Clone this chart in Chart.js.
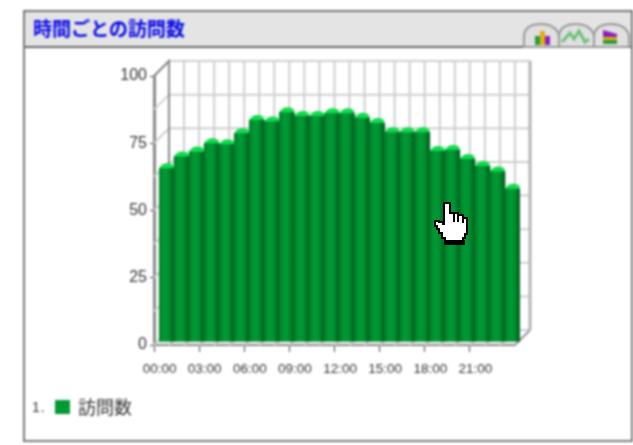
<!DOCTYPE html>
<html lang="ja">
<head>
<meta charset="utf-8">
<title>時間ごとの訪問数</title>
<script src="https://cdn.jsdelivr.net/npm/chart.js@4/dist/chart.umd.min.js"></script>
<style>
    html, body { margin: 0; padding: 0; background: #fff; width: 633px; height: 445px; overflow: hidden; }
    #page { position: absolute; left: 0; top: 0; width: 633px; height: 445px; filter: blur(0.9px); }
    #panel { position: absolute; left: 23px; top: 10px; width: 606px; height: 428px; border: 2px solid #777; background: #fff; }
    #header { position: absolute; left: 0; top: 0; width: 606px; height: 34px; background: #e4e4e4; border-bottom: 2px solid #666; }
    #title { position: absolute; left: 8px; top: 4px; font: bold 19px "Noto Sans CJK JP", sans-serif; line-height: 24px; color: #0c0ce8; white-space: nowrap; }
    #tabs { position: absolute; left: 523px; top: 22px; }
    #chart { position: absolute; left: 0; top: 0; }
    #legend-no { position: absolute; left: 32px; top: 399px; font: 14px "Liberation Sans", sans-serif; color: #333; letter-spacing: 1px; }
    #legend-box { position: absolute; left: 55px; top: 400px; width: 15px; height: 14px; background: #009933; }
    #legend-name { position: absolute; left: 78px; top: 393px; font: 18px "Noto Sans CJK JP", sans-serif; line-height: 26px; color: #333; }
    #hand { position: absolute; left: 434px; top: 200px; }
</style>
</head>
<body>
<div id="page">
    <div id="panel">
        <div id="header"><div id="title">時間ごとの訪問数</div></div>
    </div>
    <svg id="tabs" width="107" height="26" viewBox="0 0 107 26">
        <path d="M1 25V13Q3 2 18 2Q32 2 36 13V25Z" fill="#e0e0e0" stroke="#999" stroke-width="2"/>
        <path d="M36 25V13Q38 2 53 2Q67 2 71 13V25Z" fill="#e0e0e0" stroke="#999" stroke-width="2"/>
        <path d="M71 25V13Q73 2 88 2Q102 2 106 13V25Z" fill="#e0e0e0" stroke="#999" stroke-width="2"/>
        <rect x="12" y="14" width="5" height="9" fill="#2c9a3a"/>
        <rect x="17" y="9" width="5" height="14" fill="#e0b010"/>
        <rect x="22" y="14" width="5" height="9" fill="#8a20c0"/>
        <path d="M39 20L47 11L51 17L56 9L62 20L66 17" fill="none" stroke="#6cc07a" stroke-width="3"/>
        <path d="M80 8L94 12V15H80Z" fill="#8a20c0"/>
        <path d="M80 15H94V18H80Z" fill="#e0b010"/>
        <path d="M80 18H94V22H80Z" fill="#2c9a3a"/>
    </svg>
    <canvas id="chart" width="633" height="445"></canvas>
    <div id="legend-no">1.</div>
    <div id="legend-box"></div>
    <div id="legend-name"></div>
</div>
<svg id="hand" width="36" height="48" viewBox="0 0 36 48" shape-rendering="crispEdges">
    <path d="M10 3H16V13H24V15H29V18H33V34H31V38H29V41H11V38H8V33H5V29H3V26H1V21H5V22H9V24H10Z" fill="#fff" stroke="#000" stroke-width="2"/>
    <path d="M10 40H31V45H10Z" fill="#000"/>
    <path d="M20 14V22M24 15V22M29 18V23" stroke="#000" stroke-width="1.5" fill="none"/>
</svg>
<script>
const seriesName = '訪問数';
const hours = ['00:00', '01:00', '02:00', '03:00', '04:00', '05:00', '06:00', '07:00',
    '08:00', '09:00', '10:00', '11:00', '12:00', '13:00', '14:00', '15:00',
    '16:00', '17:00', '18:00', '19:00', '20:00', '21:00', '22:00', '23:00'];
const visits = [64.6, 69, 70.8, 73.9, 73.5, 77.6, 82.5, 82, 85.4, 84, 84, 85,
    85, 83.4, 81.4, 78, 78, 78, 71, 71.4, 68, 65.4, 63.4, 57];

// depth of the fake 3D box, and how far the bars sit inside it
const depth = 15;
const barShiftX = 5;
const barShiftY = -3;
const capHeight = 5;

const box3d = {
    id: 'box3d',
    beforeDatasetsDraw(chart) {
        const { ctx, chartArea: a, scales: { y } } = chart;
        ctx.save();
        ctx.strokeStyle = '#cfcfcf';
        ctx.lineWidth = 2;
        y.ticks.forEach(t => {
            const py = y.getPixelForValue(t.value);
            ctx.beginPath();
            ctx.moveTo(a.left, py);
            ctx.lineTo(a.left + depth, py - depth);
            ctx.lineTo(a.right + depth, py - depth);
            ctx.stroke();
        });
        const step = (a.right - a.left) / hours.length;
        for (let i = 0; i <= hours.length; i++) {
            const px = a.left + i * step;
            ctx.beginPath();
            ctx.moveTo(px, a.bottom);
            ctx.lineTo(px + depth, a.bottom - depth);
            ctx.lineTo(px + depth, a.top - depth);
            ctx.stroke();
        }
        ctx.strokeStyle = '#888';
        ctx.beginPath();
        ctx.moveTo(a.left, a.top);
        ctx.lineTo(a.left + depth, a.top - depth);
        ctx.lineTo(a.left + depth, a.bottom - depth);
        ctx.stroke();
        ctx.strokeStyle = '#b4b4b4';
        ctx.lineWidth = 3;
        ctx.beginPath();
        ctx.moveTo(a.right + depth, a.top - depth);
        ctx.lineTo(a.right + depth, a.bottom - depth);
        ctx.stroke();
        ctx.strokeStyle = '#888';
        ctx.lineWidth = 1.5;
        ctx.beginPath();
        ctx.moveTo(a.right, a.bottom);
        ctx.lineTo(a.right + depth, a.bottom - depth);
        ctx.stroke();
        ctx.restore();

        // bars stand a little way back from the front edge
        ctx.save();
        ctx.translate(barShiftX, barShiftY);
    },
    afterDatasetsDraw(chart) {
        const { ctx } = chart;
        ctx.fillStyle = '#10dc4c';
        chart.getDatasetMeta(0).data.forEach(bar => {
            const l = bar.x - bar.width / 2;
            const r = bar.x + bar.width / 2;
            ctx.beginPath();
            ctx.moveTo(l, bar.y);
            ctx.quadraticCurveTo(l + 3, bar.y - capHeight, l + 8, bar.y - capHeight);
            ctx.quadraticCurveTo(r, bar.y - capHeight, r, bar.y);
            ctx.closePath();
            ctx.fill();
        });
        ctx.restore();
    }
};

function barFill(context) {
    const { chart, dataIndex } = context;
    if (!chart.chartArea) return '#009933';
    const x = chart.scales.x;
    const mid = x.getPixelForValue(dataIndex);
    const half = (chart.chartArea.right - chart.chartArea.left) / hours.length / 2;
    const g = chart.ctx.createLinearGradient(mid - half, 0, mid + half, 0);
    g.addColorStop(0, '#007d2a');
    g.addColorStop(0.35, '#009c35');
    g.addColorStop(0.65, '#008f30');
    g.addColorStop(1, '#005a1c');
    return g;
}

document.getElementById('legend-name').textContent = seriesName;

new Chart(document.getElementById('chart').getContext('2d'), {
    type: 'bar',
    data: {
        labels: hours,
        datasets: [{
            label: seriesName,
            data: visits,
            backgroundColor: barFill,
            borderWidth: 0,
            barPercentage: 1,
            categoryPercentage: 1
        }]
    },
    options: {
        responsive: false,
        animation: false,
        layout: { padding: { left: 110, right: 118, top: 76, bottom: 60 } },
        plugins: {
            legend: { display: false },
            title: { display: false },
            tooltip: { enabled: false }
        },
        scales: {
            x: {
                offset: true,
                border: { color: '#888', width: 2 },
                grid: {
                    drawOnChartArea: false,
                    tickLength: 7,
                    tickColor: c => (c.index % 3 === 0 ? '#444' : 'transparent')
                },
                ticks: {
                    autoSkip: false,
                    maxRotation: 0,
                    labelOffset: -2,
                    padding: 9,
                    color: '#333',
                    font: { family: '"Liberation Sans", sans-serif', size: 13.5 },
                    callback(value, index) {
                        return index % 3 === 0 ? this.getLabelForValue(value) : '';
                    }
                },
                afterFit(scale) { scale.height = 40; }
            },
            y: {
                min: 0,
                max: 100,
                border: { color: '#888', width: 3 },
                grid: {
                    drawOnChartArea: false,
                    tickLength: 4,
                    tickColor: c => (c.tick && c.tick.value % 25 === 0 ? '#444' : 'transparent')
                },
                ticks: {
                    stepSize: 12.5,
                    autoSkip: false,
                    padding: 3,
                    color: '#333',
                    font: { family: '"Liberation Sans", sans-serif', size: 16 },
                    callback: value => (value % 25 === 0 ? value : '')
                },
                afterFit(scale) { scale.width = 44; }
            }
        }
    },
    plugins: [box3d]
});
</script>
</body>
</html>
